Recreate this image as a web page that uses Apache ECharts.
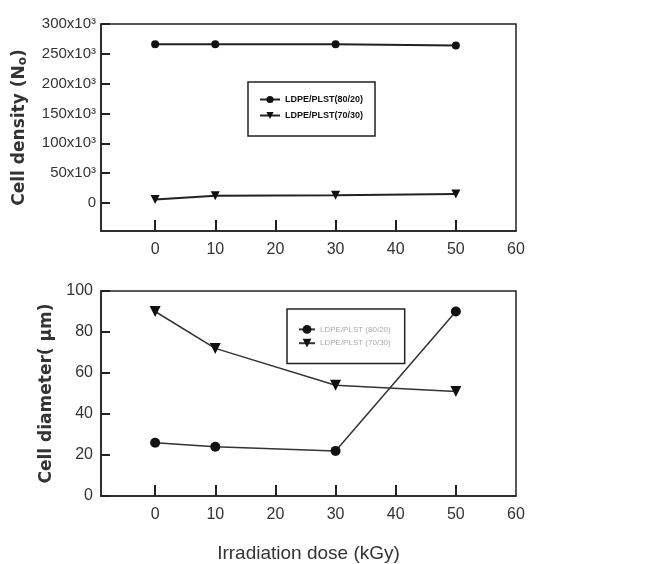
<!DOCTYPE html>
<html><head><meta charset="utf-8">
<script src="https://cdn.jsdelivr.net/npm/echarts@6/dist/echarts.min.js"></script>
<style>html,body{margin:0;padding:0;background:#fff}#c{width:651px;height:564px}</style>
</head><body><div id="c"></div>
<script>
// Data
const doses = [0, 10, 30, 50];
const xTicks = [0, 10, 20, 30, 40, 50, 60];
const densityTicks = [0, 50000, 100000, 150000, 200000, 250000, 300000];
const diameterTicks = [0, 20, 40, 60, 80, 100];
const nameA_top = 'LDPE/PLST(80/20)';
const nameB_top = 'LDPE/PLST(70/30)';
const nameA_bot = 'LDPE/PLST (80/20)';
const nameB_bot = 'LDPE/PLST (70/30)';
const density80 = [266000, 266000, 266000, 264000];
const density70 = [6000, 12000, 13000, 15000];
const diameter80 = [26, 24, 22, 90];
const diameter70 = [90, 72, 54, 51];

const pair = (xs, ys) => xs.map((x, i) => [x, ys[i]]);
const font = 'Liberation Sans, Arial, sans-serif';
const boldFont = 'DejaVu Sans, Arial, sans-serif';

const chart = echarts.init(document.getElementById('c'));
const xAxisBase = (gi, showName) => ({
  type: 'value', gridIndex: gi, min: -9, max: 60,
  axisLine: {show: true, onZero: false, lineStyle: {color: '#222', width: 1.5}},
  axisTick: {show: true, inside: true, length: 11, lineStyle: {color: '#222', width: 2}, customValues: xTicks.slice(0, 6)},
  axisLabel: {customValues: xTicks, margin: 11, fontSize: 16, color: '#333', fontFamily: font},
  splitLine: {show: false},
  name: showName ? 'Irradiation dose (kGy)' : '',
  nameLocation: 'middle', nameGap: 48,
  nameTextStyle: {fontSize: 19, color: '#333', fontFamily: font}
});
chart.setOption({
  animation: false,
  backgroundColor: '#fff',
  grid: [
    {left: 101, top: 24, width: 415, height: 207, show: true, borderColor: '#222', borderWidth: 1.5, outerBoundsMode: 'none', containLabel: false},
    {left: 101, top: 291, width: 415, height: 205, show: true, borderColor: '#222', borderWidth: 1.5, outerBoundsMode: 'none', containLabel: false}
  ],
  xAxis: [xAxisBase(0, false), xAxisBase(1, true)],
  yAxis: [
    {type: 'value', gridIndex: 0, min: -47000, max: 300000,
     axisLine: {show: true, onZero: false, lineStyle: {color: '#222', width: 1.5}},
     axisTick: {show: true, inside: true, length: 9, lineStyle: {color: '#222', width: 2}, customValues: densityTicks},
     axisLabel: {customValues: densityTicks, margin: 5, fontSize: 15, color: '#333', fontFamily: font,
       formatter: v => v === 0 ? '0' : (v / 1000) + 'x10³'},
     splitLine: {show: false},
     name: 'Cell density (N{s|o})', nameLocation: 'middle', nameGap: 72, nameRotate: 90,
     nameTextStyle: {fontSize: 17, fontWeight: 'bold', color: '#333', fontFamily: boldFont,
       rich: {s: {fontSize: 12, fontWeight: 'bold', color: '#333', fontFamily: boldFont, verticalAlign: 'bottom', padding: [7, 0, 0, 0]}}}},
    {type: 'value', gridIndex: 1, min: 0, max: 100,
     axisLine: {show: true, onZero: false, lineStyle: {color: '#222', width: 1.5}},
     axisTick: {show: true, inside: true, length: 9, lineStyle: {color: '#222', width: 2}, customValues: diameterTicks},
     axisLabel: {customValues: diameterTicks, margin: 8, fontSize: 16, color: '#333', fontFamily: font},
     splitLine: {show: false},
     name: 'Cell diameter( μm)', nameLocation: 'middle', nameGap: 45, nameRotate: 90,
     nameTextStyle: {fontSize: 17, fontWeight: 'bold', color: '#333', fontFamily: boldFont}}
  ],
  legend: [
    {data: [nameA_top, nameB_top], orient: 'vertical', left: 248, top: 82,
     itemWidth: 20, itemHeight: 9, itemGap: 7,
     padding: [13, 12, 16, 11], borderColor: '#222', borderWidth: 1.5, backgroundColor: '#fff',
     textStyle: {fontSize: 9, fontWeight: 'bold', color: '#111', fontFamily: font}},
    {data: [nameA_bot, nameB_bot], orient: 'vertical', left: 287, top: 309,
     itemWidth: 16, itemHeight: 11, itemGap: 5,
     padding: [16, 14, 16, 11], borderColor: '#222', borderWidth: 1.5, backgroundColor: '#fff',
     textStyle: {fontSize: 8, color: '#aaa', fontFamily: font}}
  ],
  series: [
    {name: nameA_top, type: 'line', xAxisIndex: 0, yAxisIndex: 0, data: pair(doses, density80),
     symbol: 'circle', symbolSize: 8, itemStyle: {color: '#111'}, lineStyle: {color: '#222', width: 2}},
    {name: nameB_top, type: 'line', xAxisIndex: 0, yAxisIndex: 0, data: pair(doses, density70),
     symbol: 'triangle', symbolRotate: 180, symbolSize: 9, itemStyle: {color: '#111'}, lineStyle: {color: '#222', width: 2}},
    {name: nameA_bot, type: 'line', xAxisIndex: 1, yAxisIndex: 1, data: pair(doses, diameter80),
     symbol: 'circle', symbolSize: 10, itemStyle: {color: '#111'}, lineStyle: {color: '#333', width: 1.5}},
    {name: nameB_bot, type: 'line', xAxisIndex: 1, yAxisIndex: 1, data: pair(doses, diameter70),
     symbol: 'triangle', symbolRotate: 180, symbolSize: 11, itemStyle: {color: '#111'}, lineStyle: {color: '#333', width: 1.5}}
  ]
});
</script></body></html>
